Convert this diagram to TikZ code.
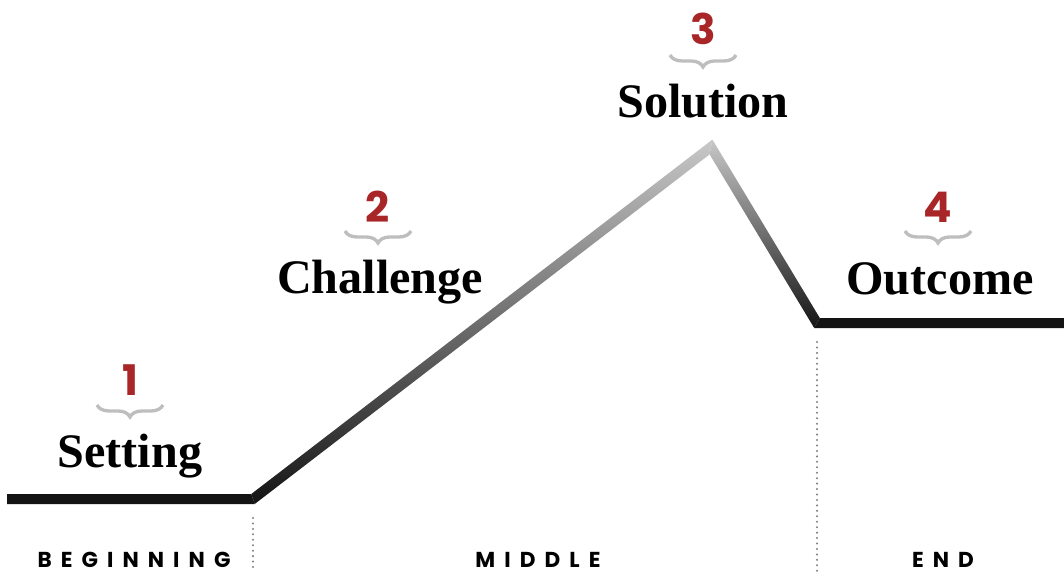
\documentclass[tikz,border=0pt]{standalone}
\usepackage{fontspec}
\setmainfont{Liberation Serif}
\newfontfamily\numfont{Poppins}
\newfontfamily\stagefont{Poppins}[LetterSpace=42]
\usetikzlibrary{
    decorations.pathreplacing,
    positioning
}
\definecolor{numred}{RGB}{168,38,40}
\definecolor{bracegray}{RGB}{190,190,190}
\definecolor{peakgray}{RGB}{200,200,200}
\definecolor{linedark}{RGB}{20,20,20}

\tikzset{
    phase/.style={anchor=base, font=\bfseries\fontsize{27.4}{31}\selectfont},
    num/.style={anchor=base, text=numred, font=\numfont\bfseries\fontsize{24}{28}\selectfont},
    stage/.style={anchor=base, font=\stagefont\bfseries\fontsize{12.3}{14}\selectfont},
    curly/.style={bracegray, line width=1.9pt, decorate, decoration={brace, mirror, amplitude=6.8pt}},
    divider/.style={gray, line width=1.3pt, dash pattern=on 0pt off 3.1pt, line cap=round}
}

\begin{document}
\begin{tikzpicture}[x=0.02cm, y=-0.02cm]
                        \useasboundingbox (0,0) rectangle (1064,574);

                        % the story line
                        \fill[linedark] (7,494) -- (251.3,494) -- (254.7,504) -- (7,504) -- cycle;
                        \shade[bottom color=linedark, middle color=black!72, top color=peakgray]
                            (251.3,494) -- (712.4,139.6) -- (709.6,154.4) -- (254.7,504) -- cycle;
                        \shade[bottom color=linedark, top color=peakgray]
                            (712.4,139.6) -- (819.8,318) -- (814.2,328) -- (709.6,154.4) -- cycle;
                        \fill[linedark] (819.8,318) -- (1064,318) -- (1064,328) -- (814.2,328) -- cycle;

                        % stages
                        \node[phase] (setting) at (130,467) {Setting};
                        \node[num] (n1) at (130,395) {1};
                        \draw[curly] (97,405) -- (163,405);

                        \node[phase] (challenge) at (380,293) {Challenge};
                        \node[num] (n2) at (378,222) {2};
                        \draw[curly] (345,231) -- (411,231);

                        \node[phase] (solution) at (703,118) {Solution};
                        \node[num] (n3) at (703,45) {3};
                        \draw[curly] (670,55) -- (736,55);

                        \node[phase] (outcome) at (940,294) {Outcome};
                        \node[num] (n4) at (938,222) {4};
                        \draw[curly] (905,231) -- (971,231);

                        % parts
                        \coordinate (d1top) at (253,518);
                        \coordinate (d1bot) at (253,571);
                        \coordinate (d2top) at (817,342);
                        \coordinate (d2bot) at (817,571);
                        \draw[divider] (d1top) -- (d1bot);
                        \draw[divider] (d2top) -- (d2bot);

                        \node[stage] (beginning) at (134,567) {BEGINNING};
                        \node[stage] (middle) at (538,567) {MIDDLE};
                        \node[stage] (end) at (943,567) {END};
                    \end{tikzpicture}
\end{document}
